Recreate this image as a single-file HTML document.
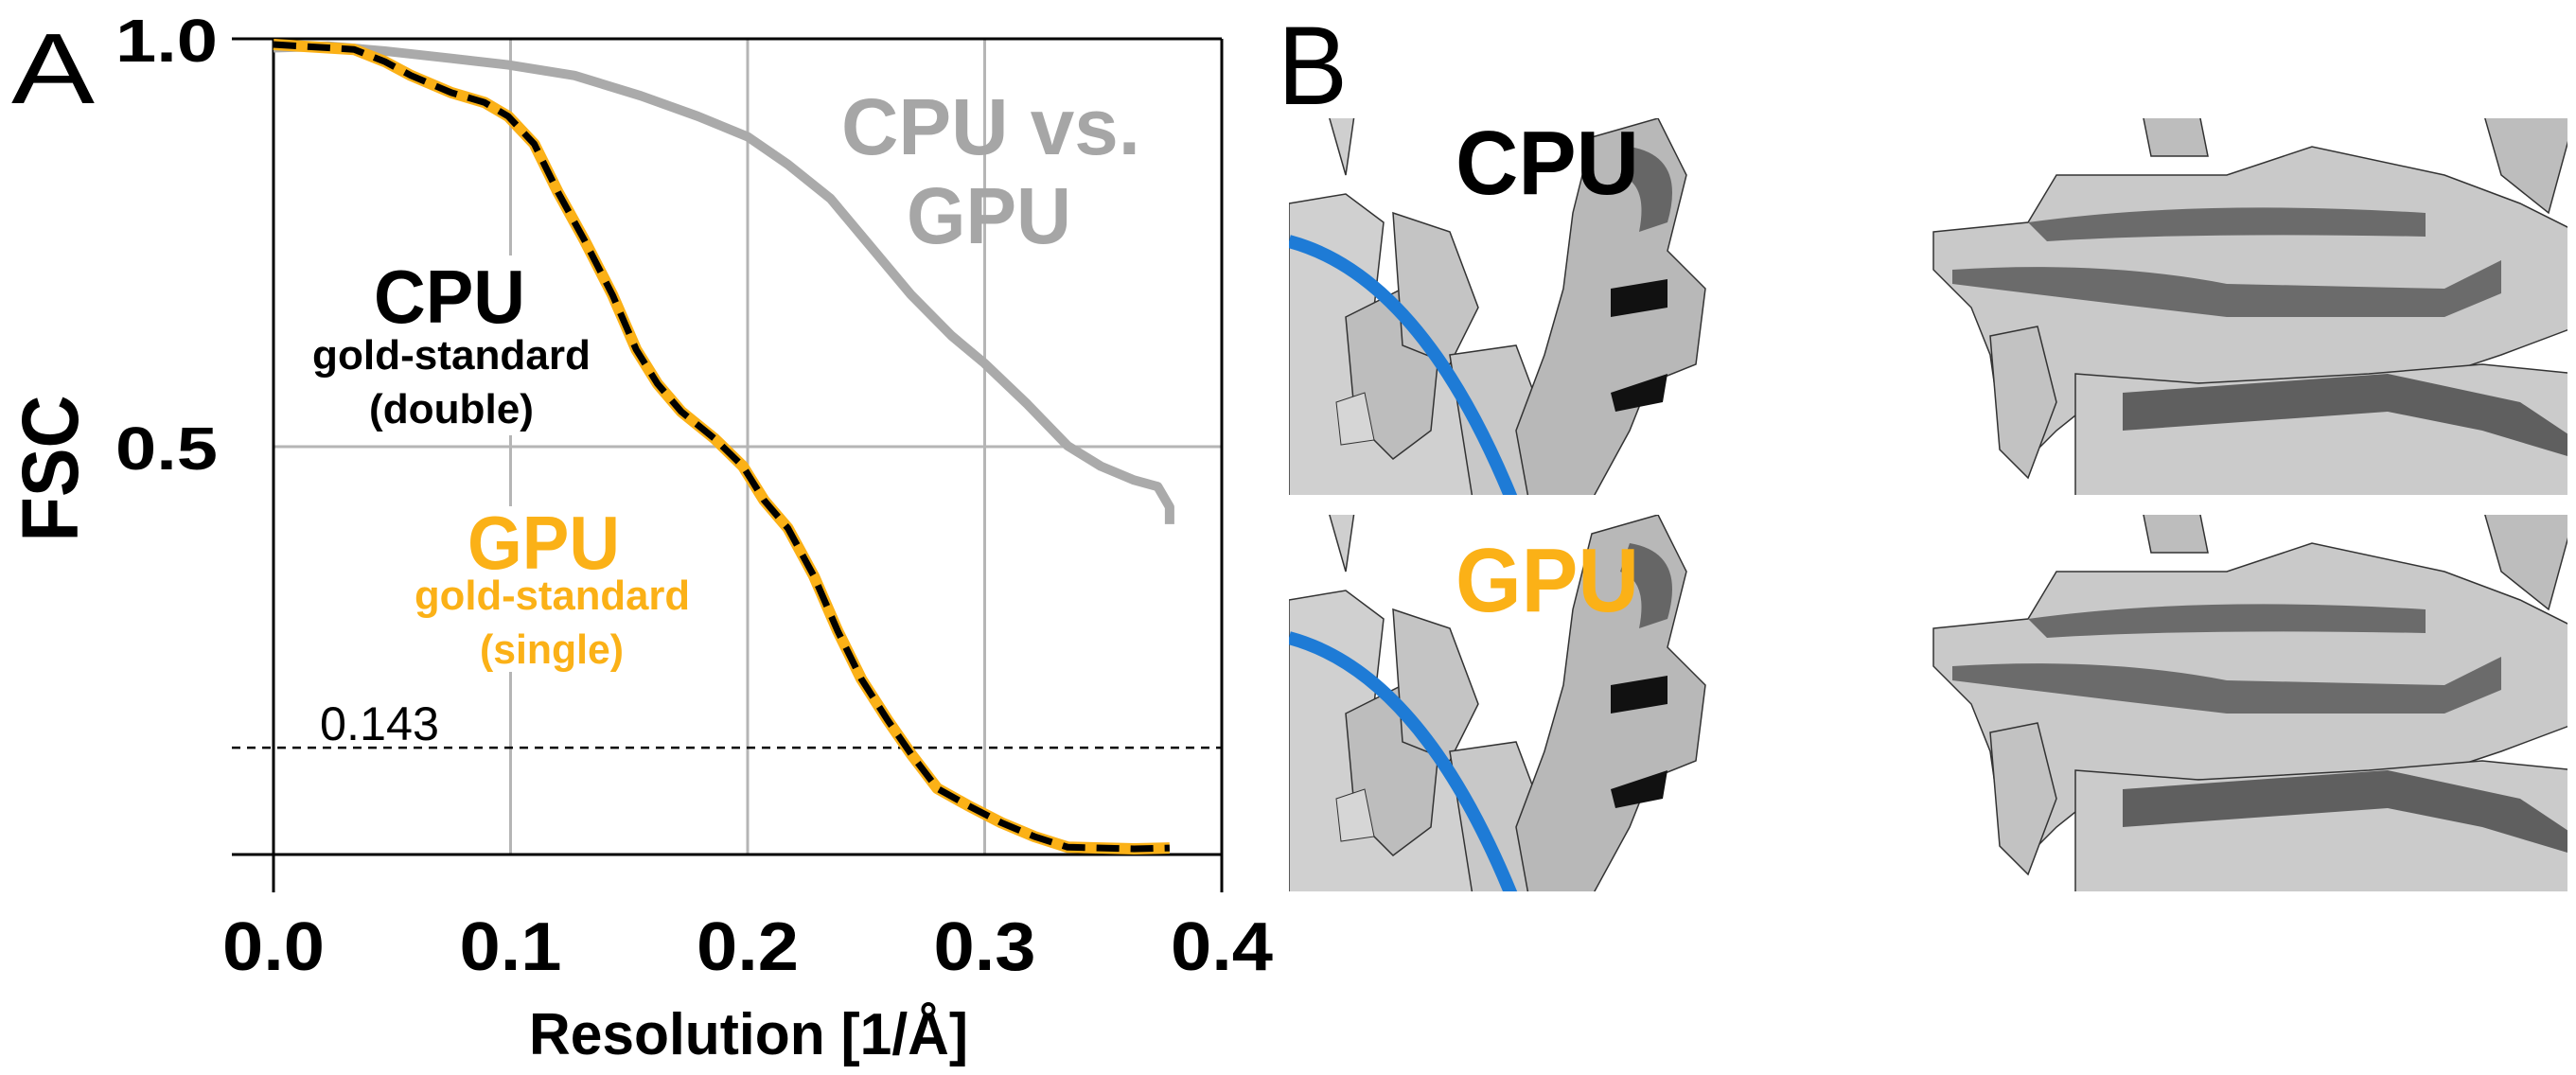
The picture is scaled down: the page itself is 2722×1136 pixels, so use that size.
<!DOCTYPE html>
<html><head><meta charset="utf-8"><style>
html,body{margin:0;padding:0;background:#fff;width:2722px;height:1136px;overflow:hidden}
text{font-family:"Liberation Sans Narrow","Liberation Sans",sans-serif;font-weight:bold}
</style></head><body>
<svg id="fig" width="2722" height="1136" viewBox="0 0 2722 1136" xmlns="http://www.w3.org/2000/svg">
<defs id="defs"></defs>
<g id="panelA"></g>
<g id="panelB">
 <text x="1350" y="110" font-size="118" style="font-weight:normal" textLength="74" lengthAdjust="spacingAndGlyphs">B</text>
</g>
</svg>
<script>
const goldRes=[0,0.034,0.047,0.058,0.075,0.089,0.099,0.110,0.120,0.131,0.143,0.153,0.162,0.172,0.186,0.198,0.207,0.217,0.228,0.238,0.248,0.259,0.269,0.280,0.293,0.307,0.321,0.335,0.349,0.363,0.378];
const goldFsc=[0.993,0.987,0.972,0.955,0.934,0.922,0.905,0.871,0.812,0.754,0.686,0.619,0.577,0.543,0.510,0.476,0.434,0.400,0.341,0.274,0.215,0.165,0.123,0.081,0.060,0.039,0.022,0.009,0.008,0.007,0.008];
const grayRes=[0,0.023,0.047,0.075,0.099,0.127,0.155,0.179,0.200,0.217,0.235,0.252,0.269,0.286,0.300,0.318,0.335,0.349,0.363,0.373,0.378,0.378];
const grayFsc=[0.989,0.991,0.985,0.976,0.968,0.955,0.930,0.905,0.880,0.846,0.804,0.745,0.686,0.636,0.602,0.552,0.501,0.476,0.459,0.451,0.426,0.405];
const xTicks=[0,0.1,0.2,0.3,0.4];
const xTickLabels=["0.0","0.1","0.2","0.3","0.4"];
const yTicks=[1.0,0.5];
const yTickLabels=["1.0","0.5"];
const threshold=[0.131];
const thresholdLabel=["0.143"];

const NS="http://www.w3.org/2000/svg";
const X0=289,X1=1291,Y0=903,Y1=41;
const xs=v=>X0+v/0.4*(X1-X0);
const ys=v=>Y0-v*(Y0-Y1);
const A=document.getElementById('panelA');
function mk(tag,attrs,parent){const e=document.createElementNS(NS,tag);for(const k in attrs)e.setAttribute(k,attrs[k]);(parent||A).appendChild(e);return e;}

[0.1,0.2,0.3].forEach(v=>{const l=mk('line',{x1:xs(v),x2:xs(v),y1:Y1,y2:Y0,stroke:'#b5b5b5','stroke-width':3});

});
const gy=mk('line',{x1:X0,x2:X1,y1:ys(0.5),y2:ys(0.5),stroke:'#b5b5b5','stroke-width':3});


const ft=mk('line',{x1:245,x2:X1,y1:Y1,y2:Y1,stroke:'#000','stroke-width':3});


const fb=mk('line',{x1:245,x2:X1,y1:Y0,y2:Y0,stroke:'#000','stroke-width':3});


const fl=mk('line',{x1:X0,x2:X0,y1:Y1,y2:943,stroke:'#000','stroke-width':3});


const fr=mk('line',{x1:X1,x2:X1,y1:Y1,y2:943,stroke:'#000','stroke-width':3});


threshold.forEach((t,i)=>{const l=mk('line',{x1:245,x2:X1,y1:ys(t),y2:ys(t),stroke:'#000','stroke-width':2.5,'stroke-dasharray':'9 7'});


const tx=mk('text',{x:338,y:ys(t)-8,'font-size':50,textLength:126,lengthAdjust:'spacingAndGlyphs',style:'font-weight:normal'});
tx.textContent=thresholdLabel[i];

});
const bg1=mk('rect',{x:325,y:270,width:310,height:190,fill:'#fff'});


const bg2=mk('rect',{x:435,y:535,width:300,height:175,fill:'#fff'});


const pts=(xa,ya)=>xa.map((x,i)=>xs(x)+','+ys(ya[i])).join(' ');
const gl=mk('polyline',{points:pts(grayRes,grayFsc),fill:'none',stroke:'#aaaaaa','stroke-width':10,'stroke-linejoin':'round'});


const ol=mk('polyline',{points:pts(goldRes,goldFsc),fill:'none',stroke:'#fbb117','stroke-width':12,'stroke-linejoin':'round'});


const bl=mk('polyline',{points:pts(goldRes,goldFsc),fill:'none',stroke:'#000','stroke-width':7,'stroke-dasharray':'24 12','stroke-linejoin':'round'});


xTicks.forEach((v,i)=>{const t=mk('text',{x:xs(v),y:1025,'font-size':72,'text-anchor':'middle',textLength:108,lengthAdjust:'spacingAndGlyphs'});
t.textContent=xTickLabels[i];

});
yTicks.forEach((v,i)=>{const t=mk('text',{x:230,y:ys(v)+24,'font-size':64,'text-anchor':'end',textLength:108,lengthAdjust:'spacingAndGlyphs'});
t.textContent=yTickLabels[i];

});
const xt=mk('text',{x:559,y:1114,'font-size':62,textLength:464,lengthAdjust:'spacingAndGlyphs'});
xt.textContent='Resolution [1/Å]';


const yt=mk('text',{x:0,y:0,'font-size':84,'text-anchor':'middle',textLength:155,lengthAdjust:'spacingAndGlyphs',transform:'translate(82,495) rotate(-90)'});
yt.textContent='FSC';


const pa=mk('text',{x:12,y:109,'font-size':106,textLength:88,lengthAdjust:'spacingAndGlyphs',style:'font-weight:normal'});
pa.textContent='A';


function lab(txt,x,y,fs,w,col,name){const t=mk('text',{x:x,y:y,'font-size':fs,fill:col,textLength:w,lengthAdjust:'spacingAndGlyphs'});t.textContent=txt;

return t;}
lab('CPU vs.',889,163,84,316,'#a6a6a6','cpu-vs-gpu-label');
lab('GPU',958,257,84,174,'#a6a6a6','cpu-vs-gpu-label-2');
lab('CPU',395,341,80,160,'#000','cpu-legend-title');
lab('gold-standard',330,390,44,294,'#000','cpu-legend-sub');
lab('(double)',390,447,44,174,'#000','cpu-legend-precision');
lab('GPU',494,601,80,161,'#fbb117','gpu-legend-title');
lab('gold-standard',438,644,44,291,'#fbb117','gpu-legend-sub');
lab('(single)',507,701,44,152,'#fbb117','gpu-legend-precision');

const B=document.getElementById('panelB');
const D=document.getElementById('defs');
let cid=0;
function drawMap(ox,oy,w,h,kind,name){
 cid++;
 const cp=document.createElementNS(NS,'clipPath');cp.setAttribute('id','cp'+cid);
 const cr=document.createElementNS(NS,'rect');cr.setAttribute('x',0);cr.setAttribute('y',0);cr.setAttribute('width',w);cr.setAttribute('height',h);
 cp.appendChild(cr);D.appendChild(cp);
 const g=document.createElementNS(NS,'g');
 g.setAttribute('transform','translate('+ox+','+oy+')');
 g.setAttribute('clip-path','url(#cp'+cid+')');
 
 
 B.appendChild(g);
 const add=(tag,a)=>{const e=document.createElementNS(NS,tag);for(const k in a)e.setAttribute(k,a[k]);g.appendChild(e);return e;};
 if(kind==='left'){
  add('path',{d:'M0,90 L60,80 L100,110 L90,200 L140,190 L160,260 L230,330 L250,400 L240,440 L0,440 Z',fill:'#d0d0d0',stroke:'#333','stroke-width':1.5});
  add('path',{d:'M60,210 L120,180 L160,230 L150,330 L110,360 L70,320 Z',fill:'#bdbdbd',stroke:'#333','stroke-width':1.5});
  add('path',{d:'M110,100 L170,120 L200,200 L170,260 L120,240 Z',fill:'#c4c4c4',stroke:'#333','stroke-width':1.5});
  add('path',{d:'M170,250 L240,240 L270,320 L260,440 L200,440 Z',fill:'#c8c8c8',stroke:'#333','stroke-width':1.5});
  add('path',{d:'M0,130 Q150,170 250,440',fill:'none',stroke:'#1e7bd6','stroke-width':14});
  add('path',{d:'M320,20 L390,0 L420,60 L400,140 L440,180 L430,260 L380,280 L360,330 L300,440 L260,440 L240,330 L270,250 L290,180 L300,100 Z',fill:'#b8b8b8',stroke:'#333','stroke-width':1.5});
  add('path',{d:'M340,180 L400,170 L400,200 L340,210 Z M340,290 L400,270 L395,300 L345,310 Z',fill:'#111'});
  add('path',{d:'M360,30 Q420,40 400,110 L370,120 Q380,70 350,60 Z',fill:'#666'});
  add('path',{d:'M40,-10 L70,-10 L60,60 Z',fill:'#cfcfcf',stroke:'#333','stroke-width':1.5});
  add('path',{d:'M50,300 L80,290 L90,340 L55,345 Z',fill:'#d6d6d6',stroke:'#333','stroke-width':1});
 } else {
  add('path',{d:'M20,120 L120,110 L150,60 L330,60 L420,30 L560,60 L640,90 L700,120 L700,220 L620,250 L560,270 L500,290 L420,280 L300,280 L200,290 L150,330 L120,360 L90,320 L80,250 L60,200 L20,160 Z',fill:'#c9c9c9',stroke:'#333','stroke-width':1.5});
  add('path',{d:'M40,160 Q200,150 330,175 L560,180 L620,150 L620,185 L560,210 L330,210 Q200,195 40,175 Z',fill:'#6b6b6b'});
  add('path',{d:'M120,110 Q300,85 540,100 L540,125 Q300,120 140,130 Z',fill:'#6b6b6b'});
  add('path',{d:'M170,270 L300,280 L480,270 L600,260 L700,270 L700,440 L170,440 Z',fill:'#cbcbcb',stroke:'#333','stroke-width':1.5});
  add('path',{d:'M220,290 L500,270 L640,300 L700,340 L700,360 L600,330 L500,310 L220,330 Z',fill:'#5f5f5f'});
  add('path',{d:'M80,230 L130,220 L150,300 L120,380 L90,350 Z',fill:'#c2c2c2',stroke:'#333','stroke-width':1.5});
  add('path',{d:'M240,-10 L300,-10 L310,40 L250,40 Z M600,-10 L700,-10 L670,100 L620,60 Z',fill:'#bdbdbd',stroke:'#333','stroke-width':1.5});
 }
}
drawMap(1362,125,630,398,'left','cpu-map-left');
drawMap(2023,125,690,398,'right','cpu-map-right');
drawMap(1362,544,630,398,'left','gpu-map-left');
drawMap(2023,544,690,398,'right','gpu-map-right');
function bl2(txt,x,y,col,name){const t=document.createElementNS(NS,'text');t.setAttribute('x',x);t.setAttribute('y',y);t.setAttribute('font-size',96);t.setAttribute('fill',col);t.setAttribute('textLength',194);t.setAttribute('lengthAdjust','spacingAndGlyphs');t.textContent=txt;


B.appendChild(t);}
bl2('CPU',1538,205,'#000','cpu-map-label');
bl2('GPU',1538,646,'#fbb117','gpu-map-label');
</script>
</body></html>
